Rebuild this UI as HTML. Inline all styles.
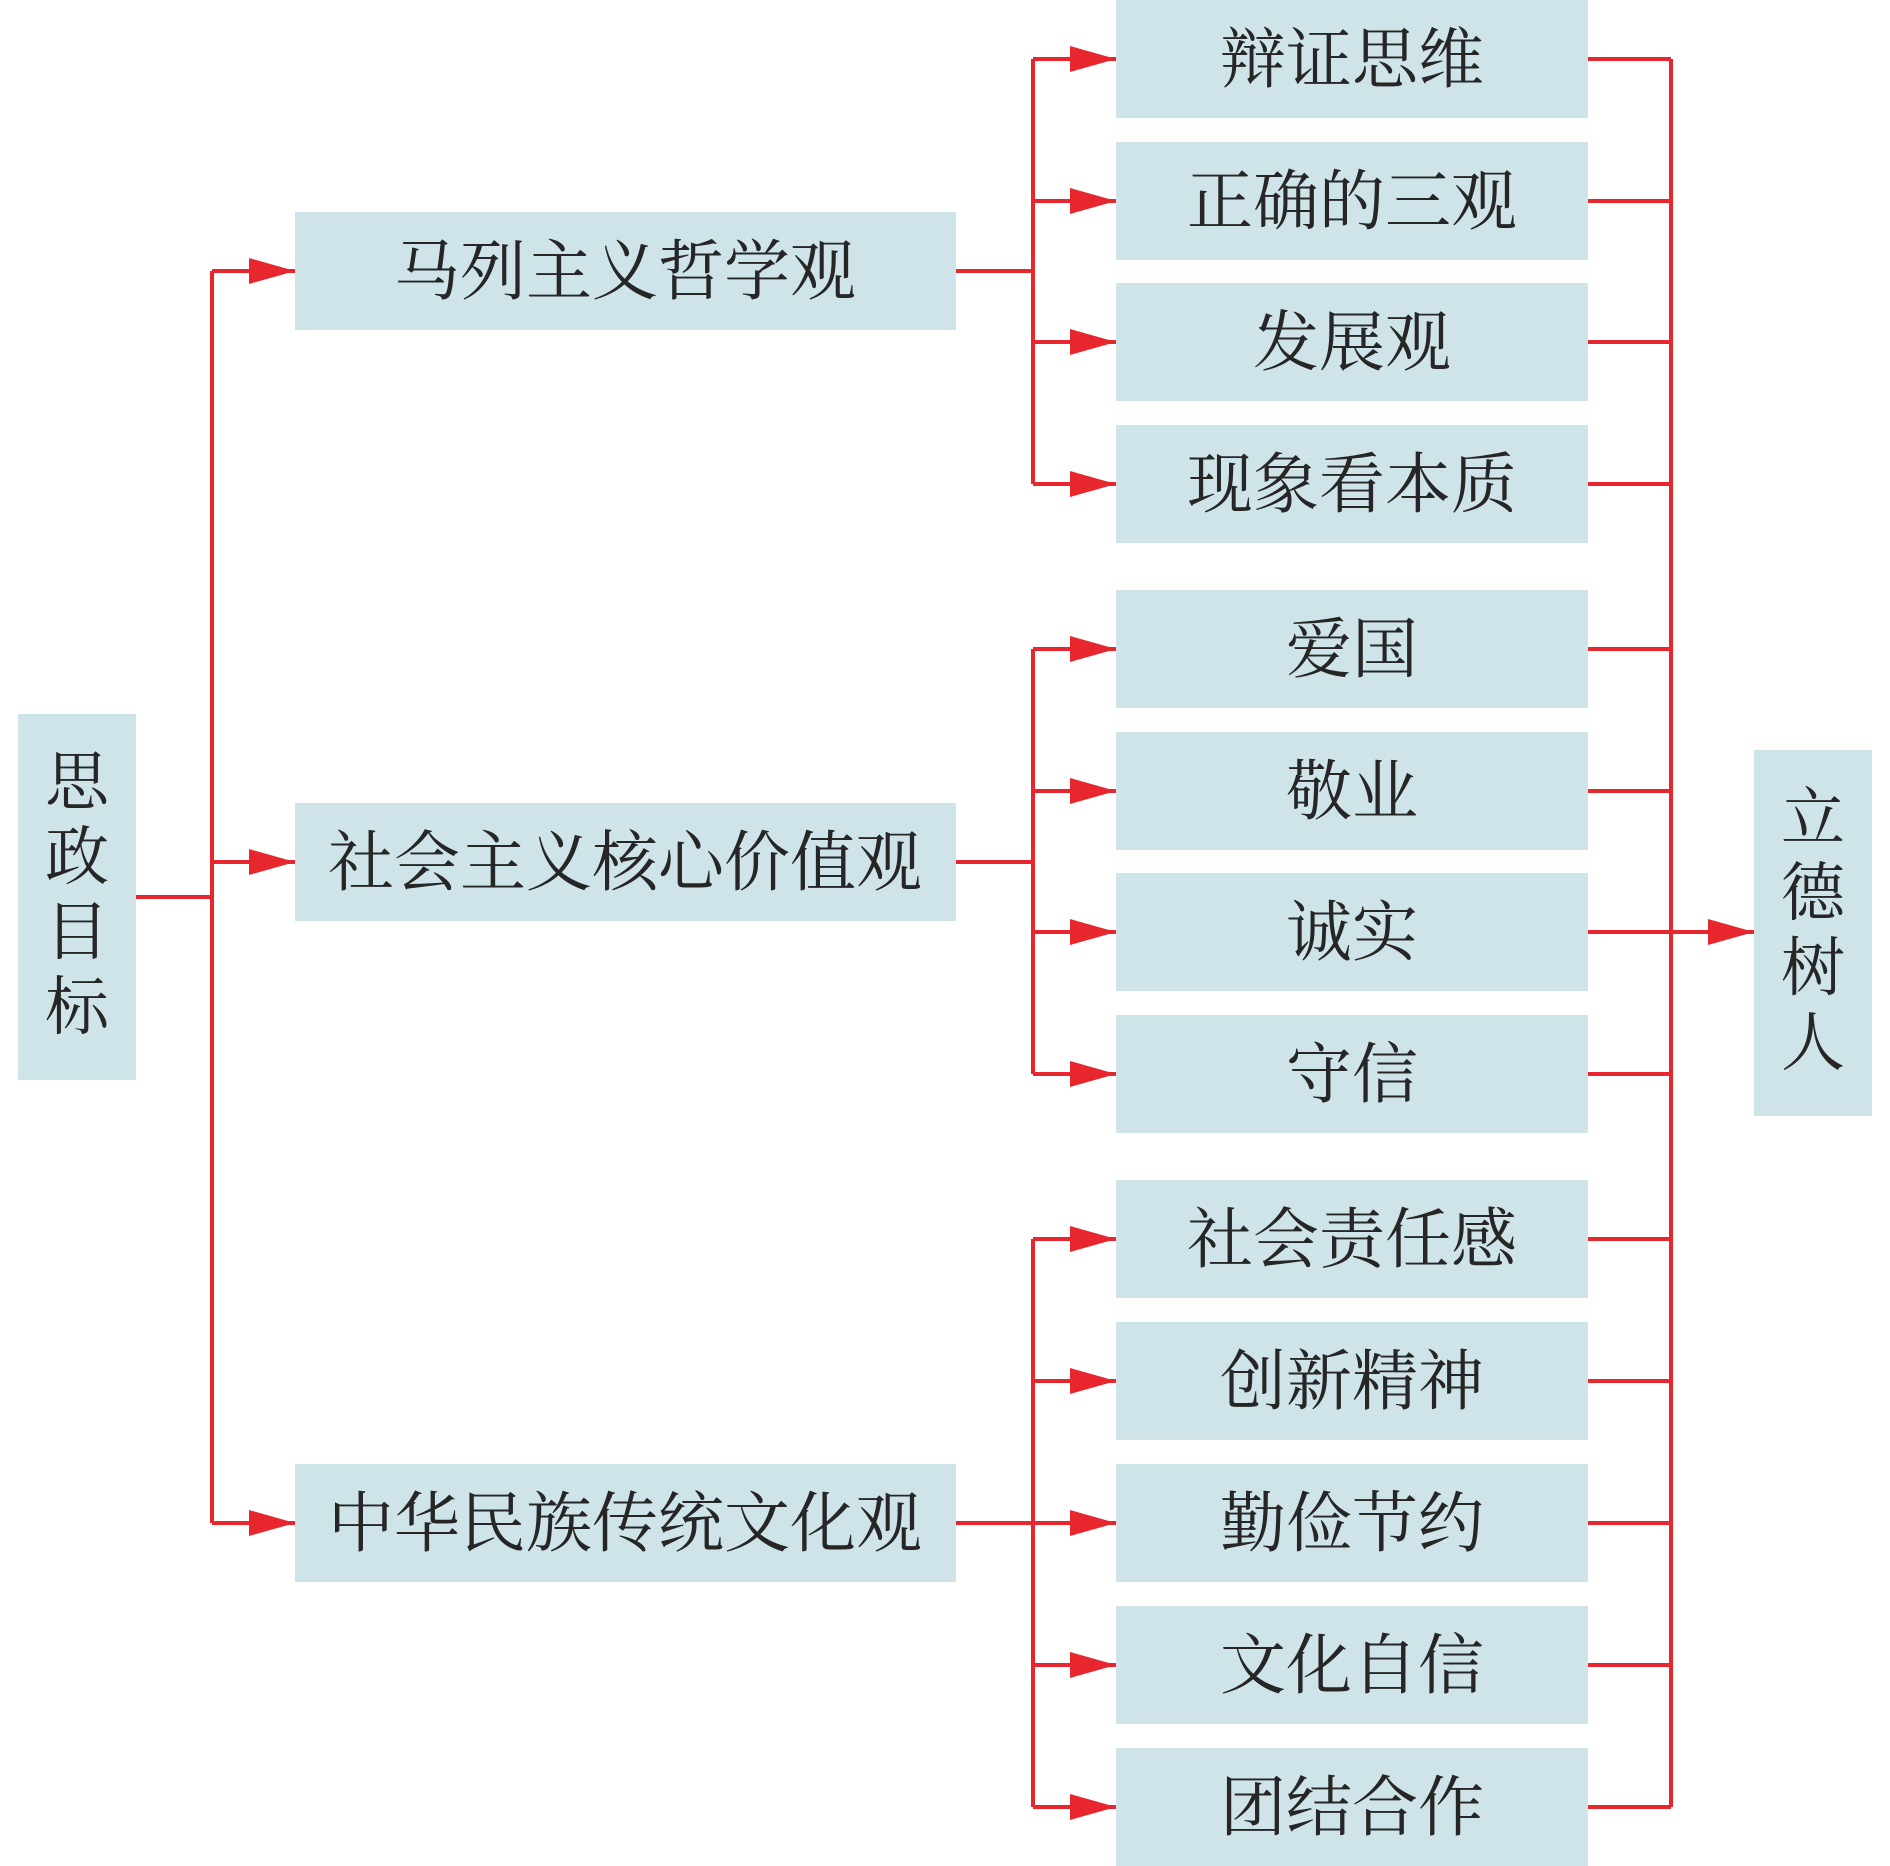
<!DOCTYPE html>
<html><head><meta charset="utf-8"><style>
html,body{margin:0;padding:0;background:#fff;}
svg{display:block;}
text{font-family:"Noto Serif CJK SC","Liberation Serif",serif;fill:#262626;}
</style></head><body>
<svg width="1890" height="1866" viewBox="0 0 1890 1866" xmlns="http://www.w3.org/2000/svg">
<defs>
<marker id="a" markerWidth="46" markerHeight="26" refX="46" refY="13" orient="auto" markerUnits="userSpaceOnUse">
<path d="M0,0 L46,13 L0,26 Z" fill="#e8262d"/>
</marker>
</defs>
<g fill="#cfe4e8">
<rect x="18" y="714" width="118" height="366"/>
<rect x="1754" y="750" width="118" height="366"/>
<rect x="295" y="212" width="661" height="118"/>
<rect x="295" y="803" width="661" height="118"/>
<rect x="295" y="1464" width="661" height="118"/>
<rect x="1116" y="0" width="472" height="118"/>
<rect x="1116" y="142" width="472" height="118"/>
<rect x="1116" y="283" width="472" height="118"/>
<rect x="1116" y="425" width="472" height="118"/>
<rect x="1116" y="590" width="472" height="118"/>
<rect x="1116" y="732" width="472" height="118"/>
<rect x="1116" y="873" width="472" height="118"/>
<rect x="1116" y="1015" width="472" height="118"/>
<rect x="1116" y="1180" width="472" height="118"/>
<rect x="1116" y="1322" width="472" height="118"/>
<rect x="1116" y="1464" width="472" height="118"/>
<rect x="1116" y="1606" width="472" height="118"/>
<rect x="1116" y="1748" width="472" height="118"/>
</g>
<g stroke="#e8262d" stroke-width="4" fill="none">
<path d="M136,897 H212 M212,271 V1523"/>
<path d="M212,271 H295" marker-end="url(#a)"/>
<path d="M212,862 H295" marker-end="url(#a)"/>
<path d="M212,1523 H295" marker-end="url(#a)"/>
<path d="M956,271 H1033 M1033,59 V484"/>
<path d="M956,862 H1033 M1033,649 V1074"/>
<path d="M956,1523 H1033 M1033,1239 V1807"/>
<path d="M1033,59 H1116" marker-end="url(#a)"/>
<path d="M1033,201 H1116" marker-end="url(#a)"/>
<path d="M1033,342 H1116" marker-end="url(#a)"/>
<path d="M1033,484 H1116" marker-end="url(#a)"/>
<path d="M1033,649 H1116" marker-end="url(#a)"/>
<path d="M1033,791 H1116" marker-end="url(#a)"/>
<path d="M1033,932 H1116" marker-end="url(#a)"/>
<path d="M1033,1074 H1116" marker-end="url(#a)"/>
<path d="M1033,1239 H1116" marker-end="url(#a)"/>
<path d="M1033,1381 H1116" marker-end="url(#a)"/>
<path d="M1033,1523 H1116" marker-end="url(#a)"/>
<path d="M1033,1665 H1116" marker-end="url(#a)"/>
<path d="M1033,1807 H1116" marker-end="url(#a)"/>
<path d="M1671,59 V1807 M1588,59 H1671 M1588,201 H1671 M1588,342 H1671 M1588,484 H1671 M1588,649 H1671 M1588,791 H1671 M1588,932 H1671 M1588,1074 H1671 M1588,1239 H1671 M1588,1381 H1671 M1588,1523 H1671 M1588,1665 H1671 M1588,1807 H1671"/>
<path d="M1671,932 H1754" marker-end="url(#a)"/>
</g>
<g font-size="64" text-anchor="middle">
<text x="77" y="804">思</text>
<text x="77" y="879">政</text>
<text x="77" y="954">目</text>
<text x="77" y="1029">标</text>
<text x="1813" y="840">立</text>
<text x="1813" y="915">德</text>
<text x="1813" y="990">树</text>
<text x="1813" y="1065">人</text>
</g>
<g font-size="66" text-anchor="middle">
<text x="625" y="294">马列主义哲学观</text>
<text x="625" y="885">社会主义核心价值观</text>
<text x="625" y="1546">中华民族传统文化观</text>
<text x="1352" y="82">辩证思维</text>
<text x="1352" y="224">正确的三观</text>
<text x="1352" y="365">发展观</text>
<text x="1352" y="507">现象看本质</text>
<text x="1352" y="672">爱国</text>
<text x="1352" y="814">敬业</text>
<text x="1352" y="955">诚实</text>
<text x="1352" y="1097">守信</text>
<text x="1352" y="1262">社会责任感</text>
<text x="1352" y="1404">创新精神</text>
<text x="1352" y="1546">勤俭节约</text>
<text x="1352" y="1688">文化自信</text>
<text x="1352" y="1830">团结合作</text>
</g>
</svg>
</body></html>
